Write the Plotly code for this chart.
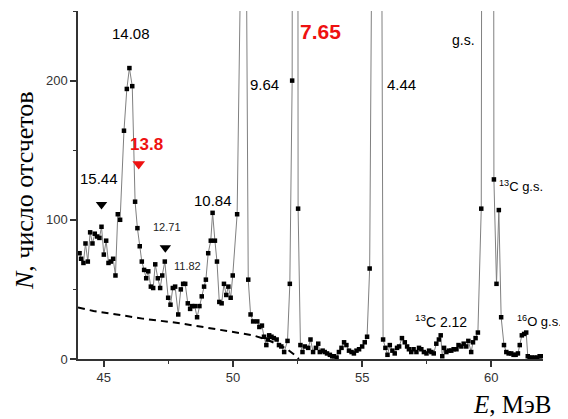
import plotly.graph_objects as go

# Spectrum: energy (MeV) and counts
energy = [44.06, 44.12, 44.21, 44.29, 44.38, 44.47, 44.56, 44.65, 44.74, 44.83, 44.91, 45.00,
          45.09, 45.18, 45.27, 45.36, 45.45, 45.54, 45.63, 45.78, 45.89, 45.99, 46.10, 46.21,
          46.30, 46.39, 46.47, 46.56, 46.64, 46.72, 46.82, 46.91, 46.99, 47.09, 47.18, 47.26,
          47.36, 47.49, 47.58, 47.67, 47.76, 47.88, 47.98, 48.07, 48.15, 48.25, 48.34, 48.42,
          48.52, 48.61, 48.70, 48.79, 48.88, 48.95, 49.04, 49.14, 49.21, 49.30, 49.38, 49.47,
          49.56, 49.65, 49.74, 49.82, 49.91, 49.99, 50.16, 50.30, 50.40, 50.50, 50.59, 50.68,
          50.78, 50.94, 51.02, 51.12, 51.20, 51.29, 51.35, 51.40, 51.49, 51.58, 51.69, 51.78,
          51.87, 51.98, 52.11, 52.20, 52.29, 52.36, 52.44, 52.52, 52.61, 52.69, 52.78, 52.91,
          53.00, 53.10, 53.21, 53.30, 53.36, 53.47, 53.55, 53.64, 53.75, 53.84, 53.91, 54.01,
          54.10, 54.20, 54.30, 54.39, 54.49, 54.59, 54.68, 54.78, 54.88, 55.00, 55.10, 55.19,
          55.29, 55.38, 55.47, 55.56, 55.65, 55.74, 55.81, 55.90, 55.98, 56.07, 56.17, 56.26,
          56.35, 56.43, 56.54, 56.65, 56.74, 56.81, 56.90, 56.99, 57.10, 57.20, 57.29, 57.39,
          57.49, 57.59, 57.68, 57.77, 57.87, 57.97, 58.04, 58.10, 58.17, 58.26, 58.36, 58.45,
          58.54, 58.65, 58.73, 58.84, 58.93, 59.03, 59.11, 59.22, 59.29, 59.39, 59.48, 59.61,
          59.70, 59.80, 59.90, 60.00, 60.10, 60.20, 60.29, 60.38, 60.49, 60.58, 60.67, 60.77,
          60.86, 60.94, 61.03, 61.10, 61.18, 61.27, 61.35, 61.41, 61.48, 61.58, 61.67, 61.78,
          61.87, 61.95]
counts = [76, 72, 69, 83, 70, 91, 83, 90, 88, 87, 95, 75,
          85, 69, 70, 72, 60, 104, 100, 164, 194, 209, 196, 113,
          94, 81, 70, 64, 58, 63, 52, 51, 68, 58, 51, 60,
          70, 44, 39, 51, 52, 32, 50, 54, 54, 40, 36, 38,
          38, 30, 38, 45, 52, 57, 76, 85, 105, 85, 70, 41,
          40, 54, 46, 52, 44, 60, 104, 290, 600, 350, 57, 32,
          27, 27, 23, 24, 16, 10, 14, 17, 16, 15, 14, 10,
          9, 5, 13, 54, 200, 1500, 2500, 108, 10, 5, 9, 8,
          14, 5, 8, 11, 5, 6, 5, 4, 3, 2, 2, 1,
          5, 8, 12, 10, 6, 5, 4, 6, 7, 9, 12, 16,
          65, 320, 1500, 2500, 1800, 400, 14, 8, 3, 10, 6, 4,
          8, 9, 15, 12, 9, 7, 5, 7, 5, 8, 7, 5,
          4, 6, 5, 4, 11, 14, 17, 2, 8, 5, 6, 6,
          7, 7, 10, 9, 11, 9, 13, 5, 12, 15, 19, 108,
          1200, 3000, 3500, 2000, 129, 54, 107, 30, 10, 5, 4, 4,
          3, 3, 4, 10, 17, 18, 19, 2, 1, 1, 1, 1,
          2, 2]

# Background (dashed) curve
bg_energy = [44.0, 44.6, 45.5, 46.5, 47.95, 49.0, 50.0, 50.78, 51.3, 51.8, 52.1, 52.33, 52.45, 52.55]
bg_counts = [37, 34.5, 32, 29, 25.7, 22.5, 19.2, 17, 14, 10, 7, 4, 2, 0]

# Level markers (triangles)
tri_black_e = [44.91, 47.38]
tri_black_n = [111, 80]
tri_red_e = [46.35]
tri_red_n = [140]

# Labels
label_text = ["14.08", "<b>13.8</b>", "15.44", "12.71", "11.82", "10.84", "9.64", "<b>7.65</b>",
              "4.44", "g.s.", "<sup>13</sup>C g.s.", "<sup>13</sup>C 2.12", "<sup>16</sup>O g.s."]
label_e = [46.05, 46.65, 44.8, 47.45, 48.22, 49.22, 51.22, 53.38, 56.52, 58.92, 61.15, 58.05, 61.85]
label_n = [234, 154, 130, 95, 67, 114, 197, 235, 197, 229, 124, 27, 27]
label_size = [15, 17, 15, 11, 11, 15, 15, 21, 15, 14, 13, 14, 13]
label_color = ["black", "#ee1111", "black", "#222", "#222", "black", "black", "#ee1111",
               "black", "black", "black", "black", "black"]

fig = go.Figure()
fig.add_trace(go.Scatter(x=bg_energy, y=bg_counts, mode="lines",
                         line=dict(color="black", width=2, dash="7px,5px"), hoverinfo="skip"))
fig.add_trace(go.Scatter(x=energy, y=counts, mode="lines+markers",
                         line=dict(color="#808080", width=1),
                         marker=dict(symbol="square", size=4.5, color="black", line=dict(width=0))))
fig.add_trace(go.Scatter(x=tri_black_e, y=tri_black_n, mode="markers",
                         marker=dict(symbol="triangle-down", size=10, color="black")))
fig.add_trace(go.Scatter(x=tri_red_e, y=tri_red_n, mode="markers",
                         marker=dict(symbol="triangle-down", size=11, color="#ee1111")))

for t, e, n, s, c in zip(label_text, label_e, label_n, label_size, label_color):
    fig.add_annotation(x=e, y=n, xref="x", yref="y", text=t, showarrow=False,
                       font=dict(family="Liberation Sans, Arial", size=s, color=c))

# The page body has an 8px margin; figure is sized to fit the window.
OFF = 8
W, H = 568 - OFF, 419 - OFF
ml, mr, mt, mb = 78 - OFF, 25, 11 - OFF, 60
pw, ph = W - ml - mr, H - mt - mb


def px_to_paper(xr, yr):
    # reference-window pixel -> paper coords
    xf, yf = xr - OFF, yr - OFF
    return (xf - ml) / pw, (H - mb - yf) / ph


tx, ty = px_to_paper(553, 404)
fig.add_annotation(x=tx, y=ty, xref="paper", yref="paper", text="<i>E</i>, МэВ",
                   showarrow=False, xanchor="right", yanchor="middle",
                   font=dict(family="Liberation Serif, Times New Roman", size=25, color="black"))
lx, ly = px_to_paper(25, 191)
fig.add_annotation(x=lx, y=ly, xref="paper", yref="paper", text="<i>N</i>, число отсчетов",
                   showarrow=False, textangle=-90, xanchor="center", yanchor="middle",
                   font=dict(family="Liberation Serif, Times New Roman", size=26, color="black"))

fig.update_layout(
    width=W, height=H, margin=dict(l=ml, r=mr, t=mt, b=mb),
    paper_bgcolor="white", plot_bgcolor="white", showlegend=False,
    font=dict(family="Liberation Sans, Arial", size=12, color="#333"),
    xaxis=dict(range=[44, 62], showgrid=False, zeroline=False, showline=True,
               linecolor="#333", linewidth=1.5, ticks="outside", ticklen=6, tickwidth=1.5,
               tickcolor="#333", tick0=45, dtick=5,
               minor=dict(tick0=47.5, dtick=5, ticks="outside", ticklen=3, tickwidth=1.2, tickcolor="#333"),
               tickfont=dict(size=13, color="#333")),
    yaxis=dict(range=[0, 250], showgrid=False, zeroline=False, showline=True,
               linecolor="#333", linewidth=1.5, ticks="outside", ticklen=6, tickwidth=1.5,
               tickcolor="#333", tick0=0, dtick=100,
               minor=dict(tick0=50, dtick=100, ticks="outside", ticklen=3, tickwidth=1.2, tickcolor="#333"),
               tickfont=dict(size=13, color="#333")),
)

fig.write_html("out.html")
